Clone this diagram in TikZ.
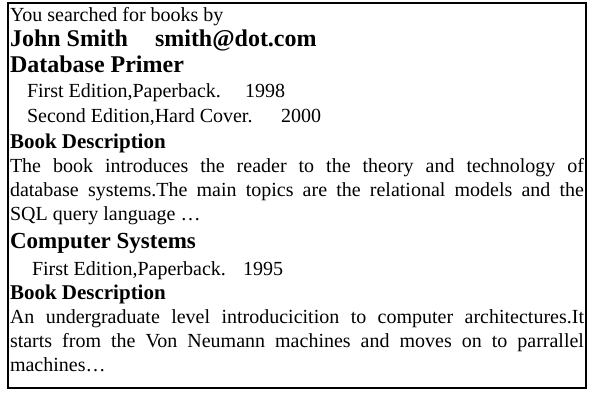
\documentclass[tikz,border=0pt]{standalone}
\usepackage{fontspec}
\setmainfont{Liberation Serif}
\begin{document}
\begin{tikzpicture}[x=1pt,y=-1pt,
  txt/.style={anchor=base west, inner sep=0pt, outer sep=0pt, font=\fontsize{20}{22}\selectfont},
  head/.style={txt, font=\fontsize{24}{26}\selectfont\bfseries},
  head2/.style={txt, font=\fontsize{23}{25}\selectfont\bfseries},
  sub/.style={txt, font=\fontsize{21}{23}\selectfont\bfseries},
  just/.style={txt},
  frame/.style={draw=black, line width=1.6pt}]
\useasboundingbox (0,0) rectangle (593,393);
\draw[frame] (8,3) rectangle (586,388);
\node[txt]  (l1)  at (10,21.5)  {You searched for books by};
\node[head] (l2)  at (10,46.8)  {John Smith};
\node[head] (l2b) at (155,46.8) {smith@dot.com};
\node[head] (l3)  at (10,72.1)  {Database Primer};
\node[txt]  (l4)  at (27,97.4)  {First Edition,Paperback.};
\node[txt]  (l4y) at (245,97.4) {1998};
\node[txt]  (l5)  at (27,122.7) {Second Edition,Hard Cover.};
\node[txt]  (l5y) at (281,122.7) {2000};
\node[sub]  (l6)  at (10,148) {Book Description};
\node[just] (l7)  at (10,172) {\makebox[574pt][s]{The book introduces the reader to the theory and technology of}};
\node[just] (l8)  at (10,196) {\makebox[574pt][s]{database systems.The main topics are the relational models and the}};
\node[txt]  (l9)  at (10,220) {SQL query language \dots};
\node[head2] (l10) at (10,248) {Computer Systems};
\node[txt]  (l11) at (32,275.5) {First Edition,Paperback.};
\node[txt]  (l11y) at (243,275.5) {1995};
\node[sub]  (l12) at (10,299.5) {Book Description};
\node[just] (l13) at (10,323.5) {\makebox[574pt][s]{An undergraduate level introducicition to computer architectures.It}};
\node[just] (l14) at (10,347.5) {\makebox[574pt][s]{starts from the Von Neumann machines and moves on to parrallel}};
\node[txt]  (l15) at (10,371.5) {machines\dots};
\end{tikzpicture}
\end{document}
